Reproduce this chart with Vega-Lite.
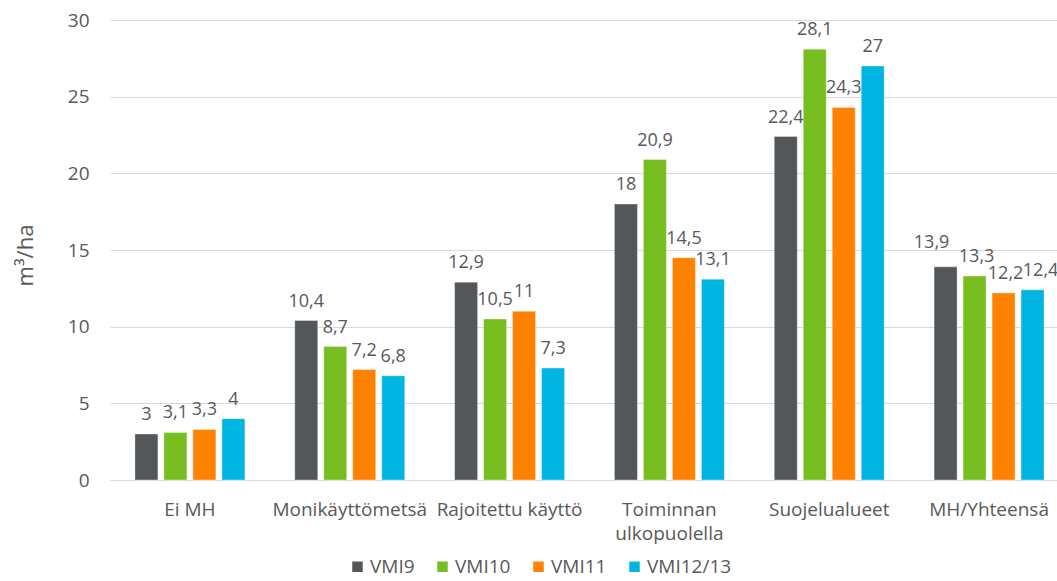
{
  "$schema": "https://vega.github.io/schema/vega-lite/v6.json",
  "autosize": {"type": "none"},
  "width": 947,
  "height": 460,
  "padding": {"left": 110, "top": 20, "right": 0, "bottom": 101},
  "background": "#ffffff",
  "config": {
    "locale": {
      "number": {"decimal": ",", "thousands": " ", "grouping": [3], "currency": ["", " €"]}
    },
    "font": "Open Sans",
    "view": {"stroke": null}
  },
  "data": {
    "values": [
      {"alue": "Ei MH", "inventointi": "VMI9", "m3ha": 3},
      {"alue": "Ei MH", "inventointi": "VMI10", "m3ha": 3.1},
      {"alue": "Ei MH", "inventointi": "VMI11", "m3ha": 3.3},
      {"alue": "Ei MH", "inventointi": "VMI12/13", "m3ha": 4},
      {"alue": "Monikäyttömetsä", "inventointi": "VMI9", "m3ha": 10.4},
      {"alue": "Monikäyttömetsä", "inventointi": "VMI10", "m3ha": 8.7},
      {"alue": "Monikäyttömetsä", "inventointi": "VMI11", "m3ha": 7.2},
      {"alue": "Monikäyttömetsä", "inventointi": "VMI12/13", "m3ha": 6.8},
      {"alue": "Rajoitettu käyttö", "inventointi": "VMI9", "m3ha": 12.9},
      {"alue": "Rajoitettu käyttö", "inventointi": "VMI10", "m3ha": 10.5},
      {"alue": "Rajoitettu käyttö", "inventointi": "VMI11", "m3ha": 11},
      {"alue": "Rajoitettu käyttö", "inventointi": "VMI12/13", "m3ha": 7.3},
      {"alue": "Toiminnan ulkopuolella", "inventointi": "VMI9", "m3ha": 18},
      {"alue": "Toiminnan ulkopuolella", "inventointi": "VMI10", "m3ha": 20.9},
      {"alue": "Toiminnan ulkopuolella", "inventointi": "VMI11", "m3ha": 14.5},
      {"alue": "Toiminnan ulkopuolella", "inventointi": "VMI12/13", "m3ha": 13.1},
      {"alue": "Suojelualueet", "inventointi": "VMI9", "m3ha": 22.4},
      {"alue": "Suojelualueet", "inventointi": "VMI10", "m3ha": 28.1},
      {"alue": "Suojelualueet", "inventointi": "VMI11", "m3ha": 24.3},
      {"alue": "Suojelualueet", "inventointi": "VMI12/13", "m3ha": 27},
      {"alue": "MH/Yhteensä", "inventointi": "VMI9", "m3ha": 13.9},
      {"alue": "MH/Yhteensä", "inventointi": "VMI10", "m3ha": 13.3},
      {"alue": "MH/Yhteensä", "inventointi": "VMI11", "m3ha": 12.2},
      {"alue": "MH/Yhteensä", "inventointi": "VMI12/13", "m3ha": 12.4}
    ]
  },
  "encoding": {
    "x": {
      "field": "alue",
      "type": "nominal",
      "sort": null,
      "scale": {"range": [0, 959], "paddingInner": 0.312, "paddingOuter": 0.156},
      "axis": {
        "title": null,
        "labelAngle": 0,
        "labelFontSize": 19,
        "labelColor": "#595959",
        "labelPadding": 20,
        "labelLineHeight": 24,
        "labelBaseline": "top",
        "labelExpr": "datum.label == 'Toiminnan ulkopuolella' ? ['Toiminnan', 'ulkopuolella'] : datum.label",
        "labelOverlap": false,
        "ticks": false,
        "domainColor": "#d9d9d9",
        "domainWidth": 1,
        "grid": false
      }
    },
    "xOffset": {
      "field": "inventointi",
      "type": "nominal",
      "sort": ["VMI9", "VMI10", "VMI11", "VMI12/13"],
      "scale": {"paddingInner": 0.207, "paddingOuter": 0}
    },
    "y": {
      "field": "m3ha",
      "type": "quantitative",
      "scale": {"domain": [0, 30]},
      "axis": {
        "title": "m³/ha",
        "titleFontSize": 22,
        "titleFontWeight": "normal",
        "titleColor": "#595959",
        "titleX": -85,
        "titleY": 235,
        "titleBaseline": "middle",
        "titleAlign": "center",
        "values": [0, 5, 10, 15, 20, 25, 30],
        "labelOverlap": false,
        "labelFontSize": 19,
        "labelColor": "#595959",
        "labelPadding": 21,
        "ticks": false,
        "domain": false,
        "gridColor": "#d9d9d9",
        "gridWidth": 1
      }
    }
  },
  "layer": [
    {
      "mark": {"type": "bar", "stroke": "#ffffff", "strokeWidth": 1, "strokeOpacity": 0.35},
      "encoding": {
        "color": {
          "field": "inventointi",
          "type": "nominal",
          "sort": ["VMI9", "VMI10", "VMI11", "VMI12/13"],
          "scale": {
            "domain": ["VMI9", "VMI10", "VMI11", "VMI12/13"],
            "range": ["#53575a", "#78be20", "#ff8200", "#00b5e2"]
          },
          "legend": {
            "title": null,
            "orient": "none",
            "direction": "horizontal",
            "legendX": 238,
            "legendY": 537,
            "symbolType": "square",
            "symbolSize": 110,
            "symbolStrokeWidth": 0,
            "labelFontSize": 19,
            "labelColor": "#595959",
            "labelOffset": 3,
            "columnPadding": 18
          }
        }
      }
    },
    {
      "transform": [{"filter": "datum.alue != 'MH/Yhteensä'"}],
      "mark": {"type": "text", "baseline": "alphabetic", "dy": -14, "fontSize": 18, "color": "#595959"},
      "encoding": {
        "text": {"field": "m3ha", "type": "quantitative", "format": ".1~f"}
      }
    },
    {
      "transform": [{"filter": "datum.alue == 'MH/Yhteensä' && datum.inventointi == 'VMI9'"}],
      "mark": {"type": "text", "baseline": "alphabetic", "dy": -19, "dx": -14, "fontSize": 18, "color": "#595959"},
      "encoding": {
        "text": {"field": "m3ha", "type": "quantitative", "format": ".1~f"}
      }
    },
    {
      "transform": [{"filter": "datum.alue == 'MH/Yhteensä' && (datum.inventointi == 'VMI10' || datum.inventointi == 'VMI11')"}],
      "mark": {"type": "text", "baseline": "alphabetic", "dy": -14, "dx": 2, "fontSize": 18, "color": "#595959"},
      "encoding": {
        "text": {"field": "m3ha", "type": "quantitative", "format": ".1~f"}
      }
    },
    {
      "transform": [{"filter": "datum.alue == 'MH/Yhteensä' && datum.inventointi == 'VMI12/13'"}],
      "mark": {"type": "text", "baseline": "alphabetic", "dy": -14, "dx": 8, "fontSize": 18, "color": "#595959"},
      "encoding": {
        "text": {"field": "m3ha", "type": "quantitative", "format": ".1~f"}
      }
    }
  ]
}
